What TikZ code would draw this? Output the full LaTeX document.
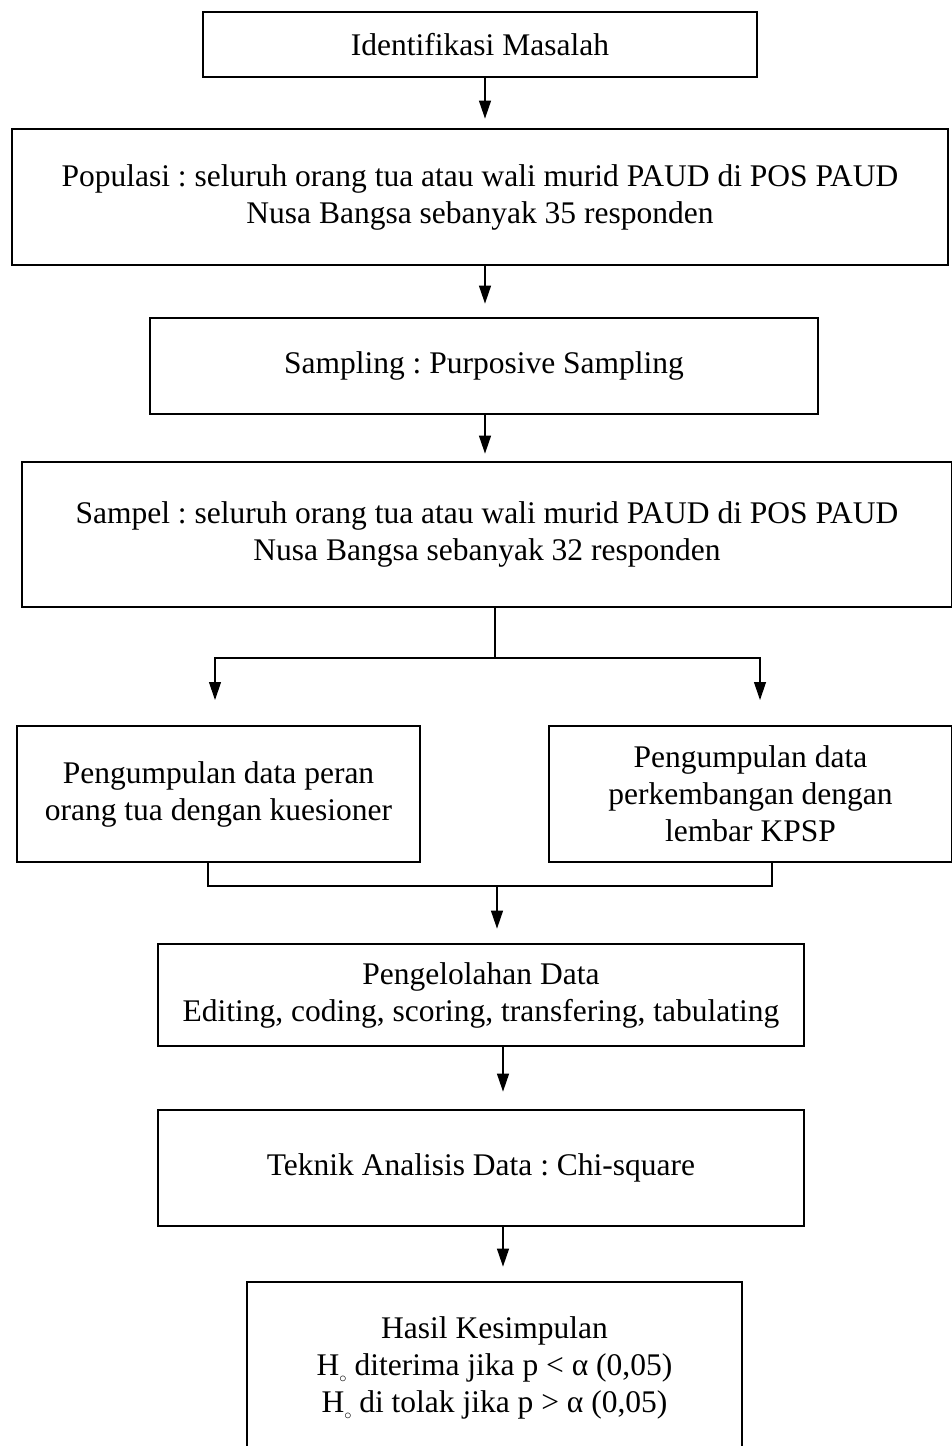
\documentclass[tikz,border=0pt]{standalone}
\usepackage{fontspec}
\setmainfont{Liberation Serif}
\usetikzlibrary{arrows.meta,calc}
\newcommand{\Hnull}{H\raisebox{-0.45ex}{\fontsize{15}{15}\selectfont$\circ$}}
\begin{document}
\frenchspacing
\begin{tikzpicture}[x=1pt,y=-1pt,
  box/.style={draw,line width=2.8pt,align=center,inner sep=0pt,
    font=\fontsize{31.5}{37}\selectfont},
  conn/.style={line width=1.2pt},
  arr/.style={conn,-{Triangle[length=18pt,width=12pt]}}]
\useasboundingbox (0,0) rectangle (952,1446);
\clip (0,0) rectangle (952,1446);
\node[box,minimum width=554pt,minimum height=65pt] (b1) at (480,44.5) {Identifikasi Masalah};
\node[box,minimum width=936pt,minimum height=136pt] (b2) at (480,197) {Populasi : seluruh orang tua atau wali murid PAUD di POS PAUD\\Nusa Bangsa sebanyak 35 responden};
\node[box,minimum width=668pt,minimum height=96pt] (b3) at (484,366) {Sampling : Purposive Sampling};
\node[box,minimum width=930pt,minimum height=145pt] (b4) at (487,534.5) {Sampel : seluruh orang tua atau wali murid PAUD di POS PAUD\\Nusa Bangsa sebanyak 32 responden};
\node[box,minimum width=403pt,minimum height=136pt] (b5) at (218.5,794) {Pengumpulan data peran\\orang tua dengan kuesioner};
\node[box,minimum width=403pt,minimum height=136pt] (b6) at (750.5,794) {Pengumpulan data\\perkembangan dengan\\lembar KPSP};
\node[box,minimum width=646pt,minimum height=102pt] (b7) at (481,995) {Pengelolahan Data\\Editing, coding, scoring, transfering, tabulating};
\node[box,minimum width=646pt,minimum height=116pt] (b8) at (481,1168) {Teknik Analisis Data : Chi-square};
\node[box,minimum width=495pt,minimum height=172pt] (b9) at (494.5,1368) {Hasil Kesimpulan\\\Hnull{} diterima jika p < α (0,05)\\\Hnull{} di tolak jika p > α (0,05)};
\coordinate (c1) at (485,0);
\coordinate (c2) at (485,0);
\coordinate (c3) at (485,0);
\coordinate (j) at (495,658);
\coordinate (t5) at (215,700);
\coordinate (t6) at (760,700);
\coordinate (l) at (208,886);
\coordinate (r) at (772,886);
\coordinate (m) at (497,886);
\coordinate (c7) at (503,0);
\coordinate (c8) at (503,0);
\draw[arr,shorten >=9pt] (b1.south -| c1) -- (b2.north -| c1);
\draw[arr,shorten >=13pt] (b2.south -| c2) -- (b3.north -| c2);
\draw[arr,shorten >=7pt] (b3.south -| c3) -- (b4.north -| c3);
\draw[conn] (b4.south -| j) -- (j);
\draw[arr] (j) -| (t5);
\draw[arr] (j) -| (t6);
\draw[conn] (b5.south -| l) -- (l) -- (r) -- (b6.south -| r);
\draw[arr,shorten >=14pt] (m) -- (b7.north -| m);
\draw[arr,shorten >=17pt] (b7.south -| c7) -- (b8.north -| c7);
\draw[arr,shorten >=14pt] (b8.south -| c8) -- (b9.north -| c8);
\end{tikzpicture}
\end{document}
